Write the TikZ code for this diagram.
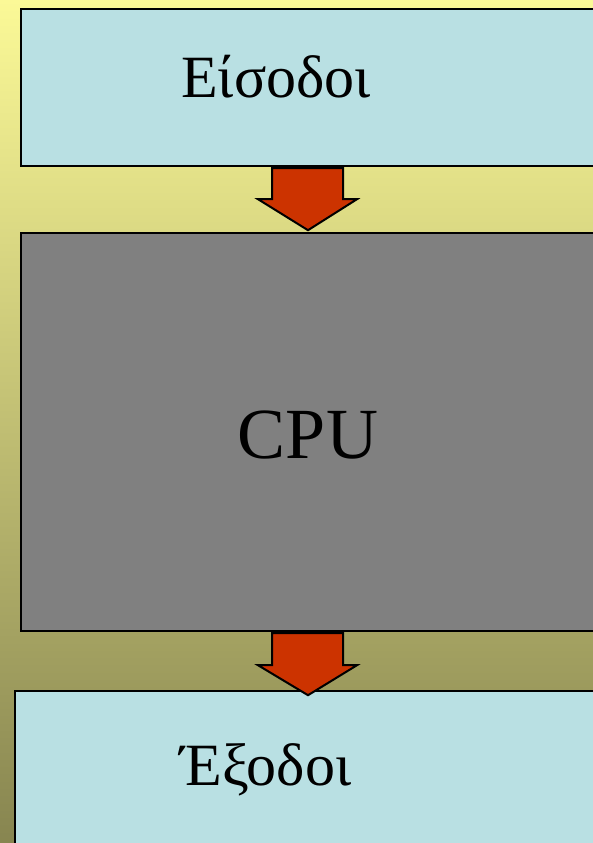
\documentclass[tikz,border=0pt]{standalone}
\usepackage{fontspec}
\setmainfont{Liberation Serif}
\usetikzlibrary{positioning}

\definecolor{fondhaut}{RGB}{251,249,151}
\definecolor{fondbas}{RGB}{135,133,80}
\definecolor{bleuboite}{RGB}{185,224,227}
\definecolor{grisboite}{RGB}{128,128,128}
\definecolor{rougefleche}{RGB}{204,51,0}

\tikzset{
  boite/.style={draw=black, line width=2.2pt, anchor=north west, inner sep=0pt},
  fleche/.style={draw=black, fill=rougefleche, line width=2pt, line join=miter},
  texte/.style={anchor=base, inner sep=0pt, font=\fontsize{60}{72}\selectfont}
}

\begin{document}
\begin{tikzpicture}[x=1pt,y=-1pt]

\clip (0,0) rectangle (593,843);

% Fond
\shade[top color=fondhaut, bottom color=fondbas]
(0,0)
rectangle
(593,843);

% Entrees
\node[boite, fill=bleuboite, minimum width=620pt, minimum height=157pt]
(entree) at (20,8) {};
\node[texte] (tentree) at (276,97) {Είσοδοι};

% CPU
\node[boite, fill=grisboite, minimum width=620pt, minimum height=398pt]
(cpu) at (20,232) {};
\node[texte, font=\fontsize{72}{86}\selectfont] (tcpu) at (308,458) {CPU};

% Sorties
\node[boite, fill=bleuboite, minimum width=620pt, minimum height=200pt]
(sortie) at (14,690) {};
\node[texte] (tsortie) at (266,785) {Έξοδοι};

% Fleches
\coordinate (f1) at (entree.south -| 308,0);
\coordinate (f2) at (cpu.south -| 308,0);

\draw[fleche]
(f1) ++(-36,1)
-- ++(71,0)
-- ++(0,31)
-- ++(14,0)
-- ++(-49,31)
-- ++(-50,-31)
-- ++(14,0)
-- cycle;

\draw[fleche]
(f2) ++(-36,1)
-- ++(71,0)
-- ++(0,32)
-- ++(14,0)
-- ++(-49,30)
-- ++(-50,-30)
-- ++(14,0)
-- cycle;

\end{tikzpicture}
\end{document}
